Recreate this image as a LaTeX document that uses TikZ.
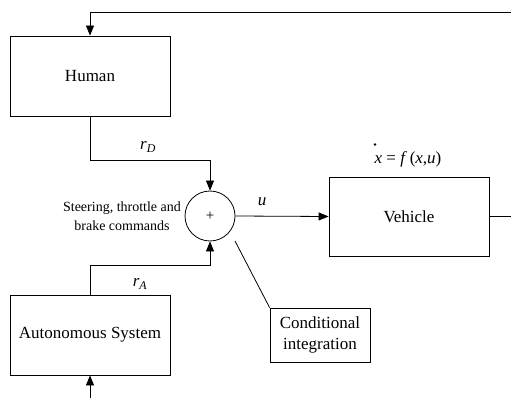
\documentclass[tikz,border=0pt]{standalone}
\usepackage{fontspec}
\setmainfont{Liberation Serif}
\usetikzlibrary{arrows.meta}
\tikzset{
  block/.style={draw, line width=0.8pt, minimum width=160pt, minimum height=80pt, inner sep=0pt,
                font=\fontsize{17}{20}\selectfont},
  sumnode/.style={draw, circle, line width=0.8pt, minimum size=50pt, inner sep=0pt,
                  font=\fontsize{15}{18}\selectfont},
  smallbox/.style={draw, line width=0.8pt, minimum width=100pt, minimum height=54pt, inner sep=0pt,
                   align=center, font=\fontsize{17}{21}\selectfont},
  wire/.style={line width=0.8pt},
  arr/.style={wire, -{Triangle[length=10pt,width=8pt]}},
  sig/.style={font=\fontsize{17}{20}\selectfont, inner sep=0pt},
  note/.style={align=center, font=\fontsize{14}{19}\selectfont, inner sep=0pt}
}
\begin{document}
\begin{tikzpicture}[x=1pt,y=-1pt]
  \useasboundingbox (0,0) rectangle (511,398);
  \clip (0,0) rectangle (511,398);

  % blocks
  \node[block] (human) at (90,76) {Human};
  \node[sumnode] (sum) at (210,216) {+};
  \node[block, minimum height=79pt] (vehicle) at (409,216.5) {Vehicle};
  \node[block] (auto) at (90,335) {Autonomous System};
  \node[smallbox] (cond) at (320,335) {Conditional\\integration};

  % helper points for the outer loop and the external input
  \coordinate (loopR) at (530,12);
  \coordinate (ain) at (90,412);
  \coordinate (ctap) at (235,241);

  % driver and autonomy commands into the summing junction
  \draw[arr] (human.south) -- ++(0,44) -| (sum.north);
  \draw[arr] (auto.north) -- ++(0,-29) -| (sum.south);

  % control input to the vehicle
  \draw[arr] (sum.east) -- (vehicle.west);

  % state feedback to the driver
  \draw[arr] (vehicle.east) -- (loopR |- vehicle.east) -- (loopR) -| (human.north);

  % external input to the autonomous system
  \draw[arr] (ain) -- (auto.south);

  % conditional integration callout
  \draw[wire] (cond.north west) -- (ctap);

  % labels
  \node[sig] (rD) at (148,147) {\textit{r}\textsubscript{\textit{D}}};
  \node[sig] (rA) at (140,284) {\textit{r}\textsubscript{\textit{A}}};
  \node[sig] (uL) at (262,202) {\textit{u}};
  \node[sig] (eq) at (408,159) {\textit{x} = \textit{f}\,(\textit{x},\textit{u})};
  % time-derivative dot over the state x
  \fill (375,144.5) circle (1.3pt);
  \node[note] (cmd) at (122,216) {Steering, throttle and\\brake commands};
\end{tikzpicture}
\end{document}
